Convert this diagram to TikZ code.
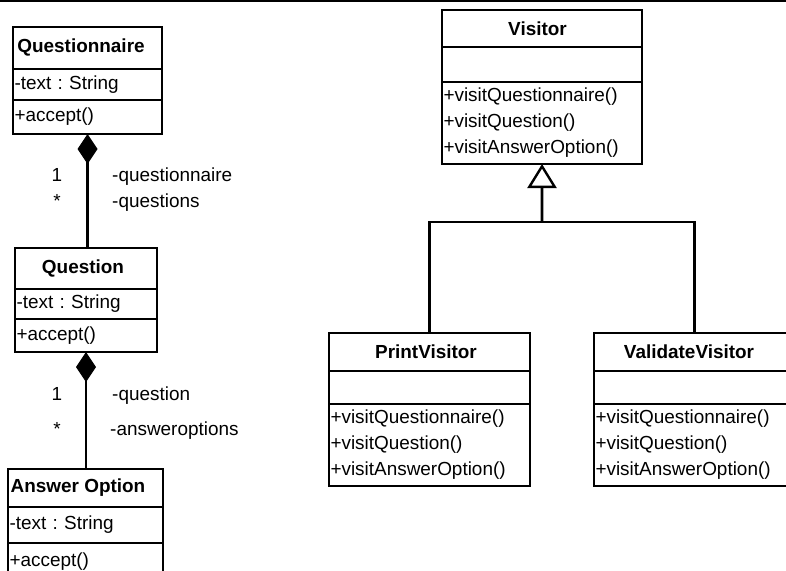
\documentclass[tikz,border=0pt]{standalone}
\usepackage{fontspec}
\setmainfont{Liberation Sans}
\frenchspacing
\usetikzlibrary{arrows.meta}
\tikzset{
  box/.style={draw, line width=2.4bp, rectangle, inner sep=0pt, outer sep=0pt, anchor=north west, font=\fontsize{19}{26}\selectfont},
  hdr/.style={box, font=\fontsize{19}{26}\selectfont\bfseries},
  comp/.style={box, align=left, inner xsep=1.5bp},
  link/.style={line width=2.8bp},
  lbl/.style={anchor=base west, inner sep=0pt, font=\fontsize{19}{26}\selectfont},
  mult/.style={anchor=base, inner sep=0pt, font=\fontsize{19}{26}\selectfont},
  comptip/.style={{Diamond[length=30bp,width=20bp,line width=1bp]}-},
  gentip/.style={-{Triangle[open,length=24bp,width=29bp,line width=2.4bp]}}
}
\begin{document}
\begin{tikzpicture}[x=1bp,y=-1bp]
\useasboundingbox (0,0) rectangle (786,571);
\clip (0,0) rectangle (786,571);
\coordinate (tl) at (0,0.8);
\coordinate (tr) at (786,0.8);
\draw[line width=1.8bp] (tl) -- (tr);

% Questionnaire
\node[hdr, minimum width=149bp, minimum height=42bp] (qn-h) at (13,27) {Questionnaire\kern13bp};
\node[comp, text width=146bp, minimum height=31bp] (qn-a) at (qn-h.south west) {-text : String};
\node[comp, text width=146bp, minimum height=34bp] (qn-o) at (qn-a.south west) {+accept()};

% Question
\node[hdr, minimum width=142bp, minimum height=41bp] (q-h) at (15,248) {Question\kern6bp};
\node[comp, text width=139bp, minimum height=30bp] (q-a) at (q-h.south west) {-text : String};
\node[comp, text width=139bp, minimum height=33bp] (q-o) at (q-a.south west) {+accept()};

% Answer Option
\node[hdr, minimum width=155bp, minimum height=38bp] (ao-h) at (8,469) {Answer Option\kern15bp};
\node[comp, text width=152bp, minimum height=36bp] (ao-a) at (ao-h.south west) {-text : String};
\node[comp, text width=152bp, minimum height=37bp] (ao-o) at (ao-a.south west) {+accept()};

% Visitor
\node[hdr, minimum width=200bp, minimum height=37bp] (v-h) at (442,10) {Visitor\kern9bp};
\node[comp, text width=197bp, minimum height=35bp] (v-a) at (v-h.south west) {};
\node[comp, text width=197bp, minimum height=82bp] (v-o) at (v-a.south west) {+visitQuestionnaire()\\+visitQuestion()\\+visitAnswerOption()};

% PrintVisitor
\node[hdr, minimum width=201bp, minimum height=38bp] (pv-h) at (329,333) {PrintVisitor\kern7bp};
\node[comp, text width=198bp, minimum height=33bp] (pv-a) at (pv-h.south west) {};
\node[comp, text width=198bp, minimum height=82bp] (pv-o) at (pv-a.south west) {+visitQuestionnaire()\\+visitQuestion()\\+visitAnswerOption()};

% ValidateVisitor
\node[hdr, minimum width=201bp, minimum height=38bp] (vv-h) at (594,333) {ValidateVisitor\kern11bp};
\node[comp, text width=198bp, minimum height=33bp] (vv-a) at (vv-h.south west) {};
\node[comp, text width=198bp, minimum height=82bp] (vv-o) at (vv-a.south west) {+visitQuestionnaire()\\+visitQuestion()\\+visitAnswerOption()};

% compositions
\draw[link, comptip] (qn-o.south) -- (qn-o.south |- q-h.north);
\draw[link, comptip] (q-o.south) -- (q-o.south |- ao-h.north);

\node[mult] (m1a) at (57,182) {1};
\node[mult] (m1b) at (57,208) {*};
\node[lbl] (r1a) at (112,182) {-questionnaire};
\node[lbl] (r1b) at (112,208) {-questions};
\node[mult] (m2a) at (57,400) {1};
\node[mult] (m2b) at (57,435) {*};
\node[lbl] (r2a) at (112,400) {-question};
\node[lbl] (r2b) at (110,435) {-answeroptions};

% generalization
\coordinate (jn) at (542,222);
\draw[link] (pv-h.north) |- (jn) -| (vv-h.north);
\draw[link, gentip] (jn) -- (v-o.south);
\end{tikzpicture}
\end{document}
